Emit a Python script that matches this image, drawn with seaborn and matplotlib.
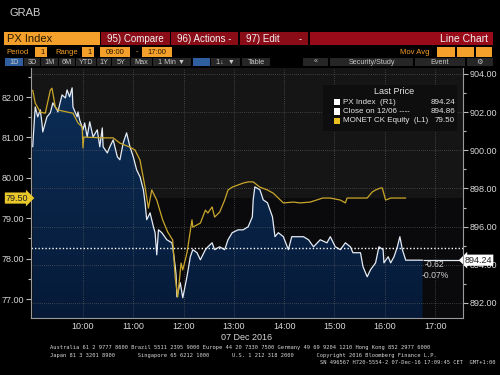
import numpy as np
import pandas as pd
import seaborn as sns
import matplotlib.pyplot as plt
from matplotlib.patches import Rectangle
from matplotlib.ticker import MultipleLocator, FixedLocator, FuncFormatter

px_times = ["09:00", "09:01", "09:03", "09:06", "09:09", "09:11", "09:12", "09:17", "09:21", "09:24",
            "09:29", "09:30", "09:35", "09:39", "09:41", "09:44", "09:47", "09:48", "09:53", "09:54",
            "09:56", "10:00", "10:02", "10:05", "10:08", "10:12", "10:17", "10:20", "10:23", "10:24",
            "10:29", "10:32", "10:36", "10:41", "10:44", "10:48", "10:52", "10:56", "11:00", "11:04",
            "11:08", "11:12", "11:14", "11:16", "11:20", "11:24", "11:26", "11:28", "11:30", "11:34",
            "11:40", "11:46", "11:47", "11:50", "11:51", "11:52", "11:56", "11:59", "12:04", "12:08",
            "12:11", "12:16", "12:20", "12:26", "12:29", "12:34", "12:37", "12:43", "12:49", "12:53",
            "12:58", "13:05", "13:11", "13:17", "13:22", "13:23", "13:25", "13:31", "13:35", "13:40",
            "13:46", "13:49", "13:53", "13:59", "14:05", "14:09", "14:15", "14:23", "14:29", "14:35",
            "14:43", "14:51", "14:55", "15:01", "15:07", "15:13", "15:19", "15:22", "15:31", "15:34",
            "15:39", "15:43", "15:49", "15:53", "15:58", "15:59", "16:04", "16:07", "16:11", "16:15",
            "16:18", "16:21", "16:25", "16:45"]
px_values = [900.18, 900.91, 902.27, 901.75, 902.12, 901.43, 900.96, 901.75, 901.96, 902.48,
             902.12, 902.01, 902.90, 902.74, 903.16, 902.80, 903.27, 902.27, 901.75, 902.01,
             901.59, 901.07, 901.43, 900.70, 901.49, 900.70, 901.07, 900.18, 901.17, 900.18,
             899.86, 900.18, 900.54, 899.65, 899.50, 900.39, 900.91, 900.18, 899.65, 898.97,
             898.61, 897.93, 897.25, 896.36, 896.72, 895.99, 895.68, 894.52, 895.83, 895.68,
             895.31, 895.15, 894.94, 893.90, 893.48, 892.32, 893.06, 892.27, 893.37, 894.42,
             894.79, 894.63, 894.26, 894.79, 894.94, 895.15, 894.79, 894.94, 894.79, 895.31,
             895.68, 895.83, 895.83, 895.99, 896.51, 897.40, 898.08, 897.93, 897.40, 897.25,
             896.51, 895.47, 895.68, 895.47, 894.79, 895.47, 895.47, 895.47, 895.31, 894.94,
             895.31, 895.15, 895.47, 894.94, 894.79, 895.15, 894.94, 894.63, 894.63, 893.90,
             893.37, 893.74, 894.10, 894.94, 894.79, 894.10, 894.42, 894.10, 894.42, 894.94,
             895.47, 894.79, 894.24, 894.24]

mon_times = ["09:00", "09:03", "09:09", "09:15", "09:21", "09:23", "09:27", "09:30", "09:48", "09:54",
             "09:59", "10:00", "10:01", "10:24", "10:36", "10:44", "10:56", "11:02", "11:08", "11:14",
             "11:18", "11:22", "11:28", "11:35", "11:41", "11:47", "11:50", "11:53", "11:57", "11:59",
             "12:04", "12:10", "12:11", "12:20", "12:26", "12:29", "12:34", "12:37", "12:43", "12:49",
             "12:53", "12:58", "13:11", "13:17", "13:23", "13:31", "13:40", "13:47", "13:53", "13:59",
             "14:11", "14:19", "14:31", "14:46", "14:55", "15:07", "15:13", "15:15", "15:39", "15:45",
             "15:49", "15:55", "15:57", "16:01", "16:07", "16:25"]
mon_values = [82.17, 81.85, 81.63, 81.60, 82.17, 82.22, 81.75, 81.68, 81.60, 81.36,
              81.26, 80.74, 81.01, 80.99, 80.99, 80.86, 80.76, 80.69, 80.44, 79.77,
              79.25, 79.70, 79.45, 78.96, 78.66, 78.46, 77.54, 77.05, 77.89, 77.72,
              78.14, 78.96, 78.78, 78.88, 79.20, 79.13, 79.28, 79.03, 79.15, 79.45,
              79.70, 79.77, 79.87, 79.90, 79.90, 79.77, 79.70, 79.62, 79.50, 79.38,
              79.40, 79.38, 79.40, 79.50, 79.50, 79.45, 79.38, 79.50, 79.50, 79.65,
              79.70, 79.75, 79.75, 79.45, 79.50, 79.50]

px_last = 894.24
px_prev_close = 894.86
mon_last = 79.50
px_change = "-0.62"
px_change_pct = "-0.07%"
hour_ticks = [10, 11, 12, 13, 14, 15, 16, 17]


def hours(t):
    h, m = t.split(":")
    return int(h) + int(m) / 60


px = pd.DataFrame({"t": [hours(t) for t in px_times], "v": px_values})
mon = pd.DataFrame({"t": [hours(t) for t in mon_times], "v": mon_values})

sns.set_style("dark")
plt.rcParams["font.family"] = ["Liberation Sans", "DejaVu Sans"]

W, H = 500, 375
fig = plt.figure(figsize=(5, 3.75), dpi=100, facecolor="black")


def fx(x):
    return x / W


def fy(y):
    return 1 - y / H


def rect(x0, y0, x1, y1, color):
    fig.add_artist(Rectangle((fx(x0), fy(y1)), (x1 - x0) / W, (y1 - y0) / H,
                             transform=fig.transFigure, color=color, lw=0))


def label(x, y, s, color="#e6e6e6", size=7, ha="left", **kw):
    fig.text(fx(x), fy(y), s, color=color, fontsize=size, ha=ha, va="center", **kw)


# header / toolbar
label(10, 13, "GRAB", "#d0d0d0", 8)
orange = "#f5a02a"
red = "#8a0c17"
rect(4, 32, 100, 45, orange)
label(7, 39, "PX Index", "#2a1a00", 8)
for x0, x1, txt in [(101, 170, "95) Compare"), (171, 238, "96) Actions -"),
                    (240, 308, "97) Edit       -")]:
    rect(x0, 32, x1, 45, red)
    label((x0 + x1) / 2, 39, txt, "#f0f0f0", 7, ha="center")
rect(310, 32, 493, 45, "#9a0b1a")
label(488, 39, "Line Chart", "#f0f0f0", 7.5, ha="right")

label(6, 52, "Period", orange, 5.5)
label(55, 52, "Range", orange, 5.5)
for x0, x1, txt in [(35, 47, "1"), (82, 94, "1"), (100, 130, "09:00"), (142, 172, "17:00")]:
    rect(x0, 47, x1, 57, orange)
    label(x1 - 2 if txt == "1" else (x0 + x1) / 2, 52, txt, "#2a1a00", 5.5,
          ha="right" if txt == "1" else "center")
label(136, 52, "-", orange, 5.5)
label(430, 52, "Mov Avg", orange, 5.5, ha="right")
for x0, x1 in [(437, 455), (457, 474), (476, 492)]:
    rect(x0, 47, x1, 57, orange)

buttons = [(5, 23, "1D"), (24, 40, "3D"), (41, 58, "1M"), (59, 75, "6M"), (76, 96, "YTD"),
           (97, 111, "1Y"), (112, 130, "5Y"), (131, 152, "Max"), (153, 191, "1 Min ▼"),
           (193, 210, ""), (211, 240, "1↓  ▼"), (242, 270, "Table"), (303, 328, "«"),
           (330, 413, "Security/Study"), (415, 465, "Event"), (467, 493, "⚙")]
for x0, x1, txt in buttons:
    col = "#2f5f9e" if x0 in (5, 193) else "#262626"
    rect(x0, 58, x1, 66, col)
    label((x0 + x1) / 2, 62, txt, "#c8c8c8", 5.2, ha="center",
          family=["Liberation Sans", "DejaVu Sans"])

# chart axes
ax = fig.add_axes([fx(31), fy(318), (463 - 31) / W, (318 - 68) / H])
ax2 = ax.twinx()
xlim = (8.966, 17.555)
r_lim = (891.21, 904.31)
l_lim = (76.53, 82.72)
ax.set_xlim(xlim)
ax.set_ylim(r_lim)
ax2.set_ylim(l_lim)

# background bands (lighter above MONET last price)
band = r_lim[0] + (mon_last - l_lim[0]) / (l_lim[1] - l_lim[0]) * (r_lim[1] - r_lim[0])
ax.set_facecolor("#0a0a0c")
ax.axhspan(band, r_lim[1], color="#151515", zorder=0, lw=0)

# area under PX Index with vertical gradient
poly = ax.fill_between(px["t"], px["v"], r_lim[0], color="none", lw=0)
grad = np.linspace(0, 1, 256).reshape(-1, 1)
img = ax.imshow(grad, extent=(xlim[0], xlim[1], r_lim[0], r_lim[1]), origin="lower",
                aspect="auto", cmap=plt.matplotlib.colors.LinearSegmentedColormap.from_list(
                    "bb", ["#061a38", "#0d2f58"]), zorder=1)
img.set_clip_path(poly.get_paths()[0], transform=ax.transData)
ax.set_xlim(xlim)
ax.set_ylim(r_lim)

sns.lineplot(data=px, x="t", y="v", ax=ax, color="#e4ebf5", linewidth=0.9,
             estimator=None, sort=False, zorder=4)
ax.hlines(px_last, px["t"].iloc[-1], xlim[1], color="#e4ebf5", lw=0.9, zorder=4)
ax.axhline(px_prev_close, color="white", lw=1.0, ls=(0, (1, 1.5)), zorder=4)

sns.lineplot(data=mon, x="t", y="v", ax=ax2, color="#c9a62a", linewidth=0.9,
             estimator=None, sort=False, zorder=5)

# grid
ax.set_axisbelow(False)
ax.grid(True, color="#6a6a6a", lw=0.5, ls=(0, (1, 2)))
ax2.grid(False)

tick_col = "#d8d8d8"
ax.yaxis.tick_right()
ax.yaxis.set_major_locator(MultipleLocator(2))
ax.yaxis.set_minor_locator(MultipleLocator(1))
ax.yaxis.set_major_formatter(FuncFormatter(lambda v, p: f"{v:.2f}"))
ax2.yaxis.tick_left()
ax2.yaxis.set_major_locator(MultipleLocator(1))
ax2.yaxis.set_minor_locator(MultipleLocator(0.5))
ax2.yaxis.set_major_formatter(FuncFormatter(lambda v, p: f"{v:.2f}"))
ax.xaxis.set_major_locator(FixedLocator(hour_ticks))
ax.xaxis.set_minor_locator(FixedLocator([h - 0.5 for h in hour_ticks]))
ax.xaxis.set_major_formatter(FuncFormatter(lambda v, p: f"{int(round(v)):02d}:00"))
for a in (ax, ax2):
    a.tick_params(which="both", colors="#bbbbbb", labelcolor=tick_col, labelsize=6.5,
                  direction="out", width=0.8, pad=1.5)
    a.tick_params(which="major", length=3.5)
    a.tick_params(which="minor", length=2)
    a.set_xlabel("")
    a.set_ylabel("")
    for s in a.spines.values():
        s.set_visible(False)
ax.tick_params(axis="x", which="both", length=0, pad=3)
ax.tick_params(axis="x", which="minor", length=2, direction="in")
ax.spines["bottom"].set_visible(True)
ax.spines["bottom"].set_color("#9a9a9a")
ax.spines["bottom"].set_linewidth(0.8)
ax2.spines["left"].set_visible(True)
ax2.spines["left"].set_color("#9a9a9a")
ax2.spines["right"].set_visible(True)
ax2.spines["right"].set_color("#9a9a9a")
ax.set_xlabel("07 Dec 2016", color=tick_col, fontsize=6.5, labelpad=1)

# last value tags
ax.text(1.004, px_last, f"{px_last:.2f}", transform=ax.get_yaxis_transform(), ha="left",
        va="center", fontsize=6.5, color="#222222", zorder=10, clip_on=False,
        bbox=dict(boxstyle="larrow,pad=0.12", fc="white", ec="none"))
ax2.text(-0.006, mon_last, f"{mon_last:.2f}", transform=ax2.get_yaxis_transform(), ha="right",
         va="center", fontsize=6.5, color="#222222", zorder=10, clip_on=False,
         bbox=dict(boxstyle="rarrow,pad=0.12", fc="#e8c82a", ec="none"))
ax.text(16.8, px_last - 0.25, px_change, fontsize=6.2, color="#d0d0d0", va="center", zorder=6)
ax.text(16.73, px_last - 0.78, px_change_pct, fontsize=6.2, color="#d0d0d0", va="center", zorder=6)

# legend box
rect(323, 85, 457, 131, "#0e0e0e")
label(394, 92, "Last Price", "#e6e6e6", 6.5, ha="center")
rows = [("PX Index  (R1)", f"{px_last:.2f}", "white"),
        ("Close on 12/06 ----", f"{px_prev_close:.2f}", "white"),
        ("MONET CK Equity  (L1)", f"{mon_last:.2f}", "#e8c020")]
for i, (name, val, col) in enumerate(rows):
    y = 102 + i * 9.5
    rect(334, y - 3.2, 340, y + 3.2, col)
    label(343, y, name, "#e6e6e6", 5.8)
    label(455, y, val, "#e6e6e6", 5.8, ha="right")

# footer
mono = dict(family="DejaVu Sans Mono")
label(50, 348, "Australia 61 2 9777 8600 Brazil 5511 2395 9000 Europe 44 20 7330 7500 "
      "Germany 49 69 9204 1210 Hong Kong 852 2977 6000", "#d8d8d8", 3.9, **mono)
label(50, 356, "Japan 81 3 3201 8900       Singapore 65 6212 1000       U.S. 1 212 318 2000"
      "       Copyright 2016 Bloomberg Finance L.P.", "#d8d8d8", 3.9, **mono)
label(495, 363, "SN 496567 H720-5554-2 07-Dec-16 17:09:45 CET  GMT+1:00", "#d8d8d8", 3.9,
      ha="right", **mono)

plt.savefig("out.png", dpi=100, facecolor="black")
